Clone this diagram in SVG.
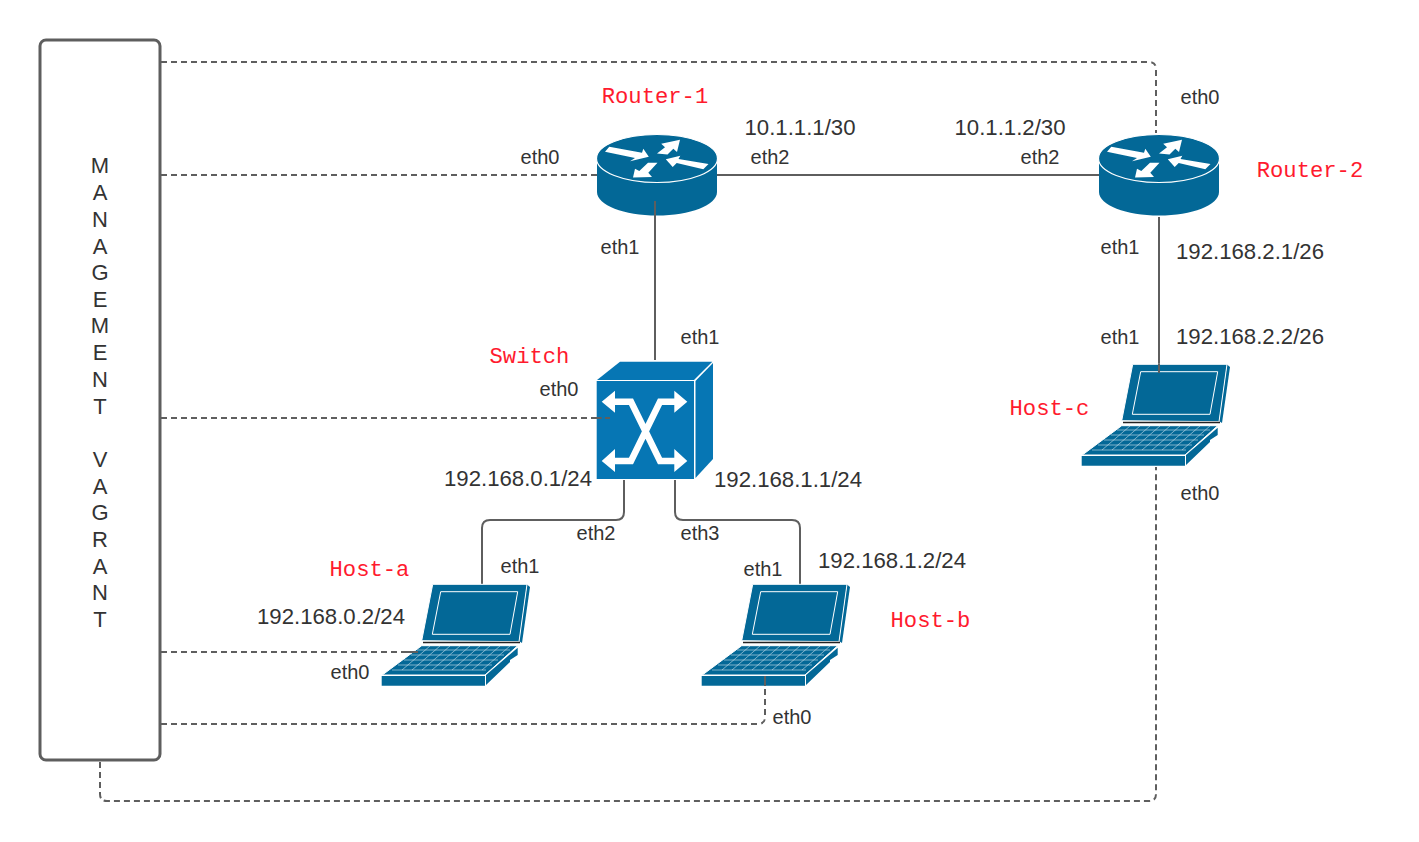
<svg xmlns="http://www.w3.org/2000/svg" xmlns:xlink="http://www.w3.org/1999/xlink" width="1419" height="842" viewBox="0 0 1419 842">
<style>
text{font-family:"Liberation Sans",Arial,sans-serif;fill:#333}
.e{font-size:20px;text-anchor:middle}
.ip{font-size:22.2px;text-anchor:middle}
.m{font-size:22px;text-anchor:middle}
.r{font-family:"Liberation Mono","Courier New",monospace;font-size:22.2px;fill:#ff1a2e;text-anchor:middle}
.s{fill:none;stroke:#5e5e5e;stroke-width:2}
.d{stroke-dasharray:6 4}
.b{fill:#036897}
.w{fill:#fff}
</style>
<defs>
<g id="router">
<path d="M597 158.500V192C597 205 624 215.500 657 215.500S717 205 717 192V158.500Z" class="b"/>
<ellipse cx="657" cy="158.500" rx="60.500" ry="24" class="b" stroke="#fff" stroke-width="1.200"/>
<path class="w" d="M605 151.700L609.300 146.800L642 152.800L643.300 148.800L648.800 156.700L630 161.200L635 158Z M657 153.500L665 147.300L661.200 143.800L680 139.800L677 152L673.300 148.800L667.500 154.500Z M657.500 162.700L648 162.700L639.300 171L635 168.800L633 177.500L652 177L648.300 172.800Z M665.800 159.300L680.300 155.800L678.500 159L708.500 164L703.300 169.300L676.700 163L672.700 167Z"/>
</g>
<g id="laptop">
<path d="M157 9.500L160 12L152 68L149 66Z" class="b"/>
<path d="M62.700 9.300H157L149 66.700L51.700 65.700Z" class="b" stroke="#fff" stroke-width="1"/>
<path d="M70.700 16.700H147.700L140 59.300H62.300Z" class="b" stroke="#fff" stroke-width="1"/>
<path d="M53 67.500H150" stroke="#222" stroke-width="1.500" fill="none"/>
<path d="M51.700 70.700H147.700L115 100H12.300Z" class="b" stroke="#fff" stroke-width="1"/>
<path d="M47 75H140M41 80H134M34 85H128M28 90H122M22 95H116M60 71L32 95M70 71L42 95M80 71L52 95M90 71L62 95M100 71L72 95M110 71L82 95M120 71L92 95M130 71L102 95M140 71L112 95" stroke="#cfe3ec" stroke-width="0.600" fill="none"/>
<path d="M11.700 101H115V110.700H11.700Z" class="b"/>
<path d="M116 100L147.700 72.700V80L140 85V87L116 110Z" class="b"/>
</g>
<g id="sw">
<path d="M597 380L620 361.700H712.300L694 380Z" style="fill:#0676b4"/>
<path d="M695.500 381L713 363V459L695.500 478Z" style="fill:#0676b4"/>
<path d="M596.700 381H694V479H596.700Z" fill="#0676b4"/>
</g>
</defs>
<g id="connectors">
<path class="s" d="M717 175H1099"/>
<path class="s" d="M655 201V360"/>
<path class="s" d="M1159 217V373"/>
<path class="s" d="M624 480V512Q624 520 616 520H490Q482 520 482 528V584"/>
<path class="s" d="M675 480V512Q675 520 683 520H792Q800 520 800 528V585"/>
<path class="s d" d="M161 62H1149Q1156 62 1156 69V133"/>
<path class="s d" d="M161 175H597"/>
<path class="s d" d="M161 418H597"/>
<path class="s d" d="M161 652H418"/>
<path class="s d" d="M161 724H758Q765 724 765 717V676"/>
<path class="s d" d="M100 762V794Q100 801 107 801H1149Q1156 801 1156 794V467"/>
</g>
<g id="management">
<rect x="40" y="40" width="120" height="720" rx="6" fill="#fff" stroke="#5e5e5e" stroke-width="3"/>
<text class="m" x="100" y="173">M</text><text class="m" x="100" y="200">A</text><text class="m" x="100" y="226.500">N</text><text class="m" x="100" y="253.500">A</text><text class="m" x="100" y="280.200">G</text><text class="m" x="100" y="307">E</text><text class="m" x="100" y="333">M</text><text class="m" x="100" y="360">E</text><text class="m" x="100" y="386.800">N</text><text class="m" x="100" y="413.500">T</text><text class="m" x="100" y="466.800">V</text><text class="m" x="100" y="493.500">A</text><text class="m" x="100" y="520.200">G</text><text class="m" x="100" y="546.800">R</text><text class="m" x="100" y="573.500">A</text><text class="m" x="100" y="600.200">N</text><text class="m" x="100" y="626.800">T</text>
</g>
<g id="router-1">
<use xlink:href="#router" href="#router"/>
<path class="s" d="M655 201V216"/>
<text class="r" x="655" y="103">Router-1</text>
</g>
<g id="router-2">
<use xlink:href="#router" href="#router" x="502"/>
<text class="r" x="1310" y="177">Router-2</text>
</g>
<g id="switch">
<use xlink:href="#sw" href="#sw"/>
<path d="M611 401.700H631L660 461H680M680 401.700H660L631 461H611" fill="none" stroke="#fff" stroke-width="6.500"/>
<path class="w" d="M601.700 401.700L615 390.700V412.700Z M687.300 401.700L674.300 390.700V412.700Z M601.700 461L615 449V472Z M687.300 461L674.300 449V472Z"/>
<path class="s" d="M595 418H601.700M605 418H610"/>
<text class="r" x="529.500" y="363">Switch</text>
</g>
<g id="host-a">
<use xlink:href="#laptop" href="#laptop" x="370" y="575"/>
<path class="s" d="M406.700 652H418"/>
<text class="r" x="369.500" y="576">Host-a</text>
</g>
<g id="host-b">
<use xlink:href="#laptop" href="#laptop" x="690" y="575"/>
<path class="s" d="M765 686V676"/>
<text class="r" x="930.500" y="627">Host-b</text>
</g>
<g id="host-c">
<use xlink:href="#laptop" href="#laptop" x="1070" y="355"/>
<path class="s" d="M1159 364V373"/>
<text class="r" x="1049.500" y="415">Host-c</text>
</g>
<g id="labels">
<text class="e" x="540" y="164">eth0</text><text class="e" x="770" y="164">eth2</text><text class="e" x="1040" y="164">eth2</text><text class="e" x="1200" y="104">eth0</text>
<text class="e" x="620" y="254">eth1</text><text class="e" x="1120" y="254">eth1</text><text class="e" x="700" y="344">eth1</text><text class="e" x="1120" y="344">eth1</text>
<text class="e" x="559" y="396">eth0</text><text class="e" x="1200" y="500">eth0</text><text class="e" x="596" y="540">eth2</text><text class="e" x="700" y="540">eth3</text>
<text class="e" x="520" y="573">eth1</text><text class="e" x="763" y="576">eth1</text><text class="e" x="350" y="679">eth0</text><text class="e" x="792" y="724">eth0</text>
<text class="ip" x="800" y="135">10.1.1.1/30</text><text class="ip" x="1010" y="135">10.1.1.2/30</text><text class="ip" x="1250" y="259">192.168.2.1/26</text><text class="ip" x="1250" y="344">192.168.2.2/26</text>
<text class="ip" x="518" y="486">192.168.0.1/24</text><text class="ip" x="788" y="487">192.168.1.1/24</text><text class="ip" x="892" y="568">192.168.1.2/24</text><text class="ip" x="331" y="624">192.168.0.2/24</text>
</g>
</svg>
